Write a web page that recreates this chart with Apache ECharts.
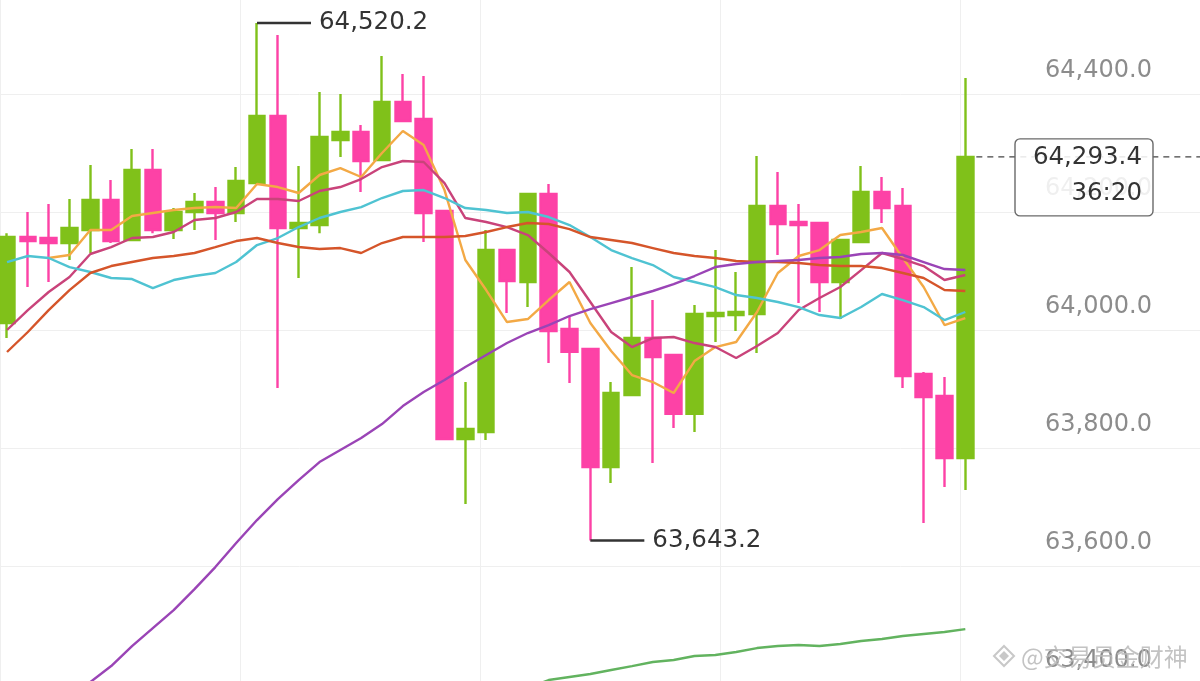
<!DOCTYPE html>
<html><head><meta charset="utf-8">
<script src="https://cdn.jsdelivr.net/npm/echarts@6/dist/echarts.min.js"></script>
<style>html,body{margin:0;padding:0;background:#fff;overflow:hidden}#c{width:1200px;height:681px}</style>
</head><body><div id="c"></div>
<script>
// ---- data ----
const opens  = [64011.8,64157.6,64155.9,64147.4,64169.4,64220.3,64152.5,64271.1,64169.4,64200.0,64216.9,64198.3,64249.1,64362.7,64172.8,64177.9,64322.0,64335.6,64288.1,64386.4,64357.6,64201.7,63815.2,63827.1,64135.5,64081.4,64230.5,64001.7,63967.7,63767.7,63889.8,63986.4,63957.6,63858.1,64023.7,64025.4,64027.1,64210.1,64183.1,64181.3,64081.4,64149.1,64233.9,64210.1,63925.4,63888.1,63783.0];
const closes = [64157.6,64150.8,64147.4,64172.8,64220.3,64150.8,64271.1,64169.4,64200.0,64216.9,64198.3,64252.5,64362.7,64172.8,64181.3,64327.1,64335.6,64286.4,64386.4,64354.2,64198.3,63815.2,63832.1,64135.5,64083.0,64230.5,63998.3,63962.9,63767.7,63893.2,63986.4,63954.2,63858.1,64027.1,64028.8,64030.5,64210.1,64179.6,64177.9,64081.4,64152.5,64233.9,64206.7,63922.0,63886.4,63783.0,64293.4];
const lows   = [63986.4,64072.8,64081.4,64118.6,64130.5,64147.4,64152.5,64164.1,64154.2,64169.4,64152.5,64183.1,64249.1,63901.6,64088.1,64164.1,64293.2,64233.9,64288.1,64354.2,64149.1,63815.2,63705.0,63813.5,64028.8,64038.9,63944.0,63910.1,63643.2,63740.6,63889.8,63774.5,63833.8,63827.1,63979.6,63998.3,63961.0,64127.1,64045.7,64030.5,64018.6,64149.1,64181.3,63901.6,63672.8,63733.9,63728.8];
const highs  = [64164.1,64200.0,64213.5,64222.0,64279.6,64254.2,64306.7,64306.7,64206.7,64232.2,64242.3,64276.2,64520.2,64500.0,64277.9,64403.4,64400.0,64347.4,64464.4,64433.9,64430.5,64201.7,63911.8,64169.4,64135.5,64230.5,64247.4,64022.0,63967.7,63911.8,64106.7,64050.8,63957.6,64042.3,64135.5,64098.3,64294.9,64267.8,64213.5,64181.3,64152.5,64277.9,64259.3,64240.6,63928.8,63920.3,64427.1];

const ma5   = [null,null,64122.0,64127.1,64169.4,64169.4,64193.2,64198.3,64203.4,64206.7,64208.4,64206.7,64247.4,64242.3,64232.2,64262.7,64274.5,64259.3,64300.0,64337.3,64313.5,64237.2,64118.6,64067.7,64013.5,64018.6,64050.8,64081.3,64011.8,63964.4,63923.7,63911.8,63893.2,63947.4,63971.1,63979.6,64030.5,64096.6,64125.4,64135.5,64161.0,64166.1,64172.8,64122.0,64072.8,64008.4,64020.3];
const ma10  = [64000.0,64033.8,64064.4,64089.8,64128.8,64140.6,64155.9,64157.6,64166.1,64186.4,64189.8,64200.0,64222.0,64222.0,64218.6,64235.6,64242.3,64255.9,64276.2,64286.4,64284.7,64249.1,64189.8,64183.0,64174.5,64161.0,64130.5,64098.3,64047.4,63996.6,63971.1,63986.4,63988.1,63977.9,63971.1,63952.5,63972.8,63994.9,64033.8,64054.2,64072.8,64101.6,64130.5,64120.3,64108.4,64084.7,64093.2];
const ma20  = [64115.2,64125.4,64122.0,64106.7,64098.3,64088.1,64086.4,64071.1,64084.7,64091.5,64096.6,64115.2,64144.0,64155.9,64174.5,64189.8,64200.0,64208.4,64223.7,64235.6,64237.2,64223.7,64206.7,64203.4,64198.3,64200.0,64191.5,64177.9,64157.6,64135.5,64122.0,64110.1,64089.8,64081.3,64072.8,64059.3,64054.2,64047.4,64038.9,64025.4,64020.3,64038.9,64061.0,64050.8,64038.9,64016.9,64030.5];
const ma30  = [63962.7,63996.6,64033.8,64067.7,64096.6,64108.4,64115.2,64122.0,64125.4,64130.5,64140.6,64150.8,64155.9,64147.4,64140.6,64137.2,64138.9,64130.5,64147.4,64157.6,64157.6,64157.6,64159.3,64166.1,64174.5,64181.3,64179.6,64171.1,64157.6,64152.5,64147.4,64138.9,64130.5,64125.4,64122.0,64116.9,64115.2,64115.2,64113.5,64110.1,64108.4,64108.4,64105.0,64096.6,64088.1,64067.7,64066.1];
const ma60  = [null,null,null,63374.5,63403.3,63430.4,63464.3,63494.8,63525.3,63560.9,63598.2,63638.9,63677.9,63713.5,63745.7,63776.2,63796.6,63816.9,63840.6,63871.1,63894.9,63915.2,63937.2,63957.6,63977.9,63994.9,64008.4,64023.7,64035.5,64045.7,64055.9,64066.1,64077.9,64091.5,64106.7,64111.8,64115.2,64116.9,64118.6,64122.0,64123.7,64128.8,64130.5,64127.1,64115.2,64103.3,64101.6];
const ma120 = [null,null,null,null,null,null,null,null,null,null,null,null,null,null,null,null,null,null,null,null,null,null,null,null,null,63393.1,63406.7,63411.8,63416.9,63423.7,63430.4,63437.2,63440.6,63447.4,63449.1,63454.2,63460.9,63464.3,63466.0,63464.3,63467.7,63472.8,63476.2,63481.3,63484.7,63488.1,63493.1];

const yTicks = {min: 63400, max: 64600, step: 200};
const countdown = '36:20';
const watermark = '@交易员金财神';
const emptySlots = 11;
const categories = opens.map((_, i) => String(i + 1)).concat(Array.from({length: emptySlots}, (_, i) => 'e' + (i + 1)));

// ---- styles ----
const GREEN = '#80c11a', PINK = '#fd42a6';
const NUMFONT = 'DejaVu Sans';
const fmt = v => Number(v).toLocaleString('en-US', {minimumFractionDigits: 1, maximumFractionDigits: 1});

let iMax = 0, iMin = 0;
highs.forEach((h, i) => { if (h > highs[iMax]) iMax = i; });
lows.forEach((l, i) => { if (l < lows[iMin]) iMin = i; });

const lineDefs = [
  ['MA5', ma5, '#f3a945'],
  ['MA10', ma10, '#c9437a'],
  ['MA20', ma20, '#4fc3d2'],
  ['MA30', ma30, '#d5552a'],
  ['MA60', ma60, '#9a44b6'],
  ['MA120', ma120, '#62b35f']
];

const chart = echarts.init(document.getElementById('c'), null, {renderer: 'canvas'});
const option = {
  animation: false,
  backgroundColor: '#ffffff',
  grid: [
    {left: -3.4, right: -4.9, top: -24, bottom: -3, outerBoundsMode: 'none', containLabel: false},
    {left: 0, right: 0, top: 0, bottom: 0, outerBoundsMode: 'none', containLabel: false}
  ],
  xAxis: [
    {type: 'category', gridIndex: 0, data: categories, boundaryGap: true,
     axisLine: {show: false}, axisTick: {show: false}, axisLabel: {show: false}, splitLine: {show: false}},
    {type: 'value', gridIndex: 1, min: 0, max: 5, interval: 1,
     axisLine: {show: false}, axisTick: {show: false}, axisLabel: {show: false},
     splitLine: {show: true, lineStyle: {color: '#efefef', width: 1}}}
  ],
  yAxis: [
    {type: 'value', gridIndex: 0, position: 'right', min: yTicks.min, max: yTicks.max, interval: yTicks.step,
     axisLine: {show: false}, axisTick: {show: false},
     splitLine: {show: true, lineStyle: {color: '#efefef', width: 1}},
     axisLabel: {inside: true, margin: 53, color: '#8c8c8c', fontSize: 24, fontFamily: NUMFONT,
                 formatter: fmt, verticalAlign: 'bottom', lineHeight: 46}},
    {type: 'value', gridIndex: 1, show: false, min: 0, max: 1}
  ],
  series: [
    {
      type: 'candlestick', xAxisIndex: 0, yAxisIndex: 0,
      data: opens.map((o, i) => [o, closes[i], lows[i], highs[i]]),
      barWidth: 16,
      itemStyle: {color: GREEN, color0: PINK, borderColor: GREEN, borderColor0: PINK, borderWidth: 2.4},
      markPoint: {
        symbol: 'rect', symbolSize: [54, 2.5], symbolOffset: [27, 0], silent: true,
        itemStyle: {color: '#333'},
        label: {show: true, position: 'right', distance: 8, color: '#333', fontSize: 24.5, fontFamily: NUMFONT,
                formatter: p => fmt(p.value)},
        data: [
          {coord: [categories[iMax], highs[iMax]], value: highs[iMax]},
          {coord: [categories[iMin], lows[iMin]], value: lows[iMin]}
        ]
      }
    }
  ].concat(lineDefs.map(([name, data, color]) => ({
    name, type: 'line', xAxisIndex: 0, yAxisIndex: 0, data,
    showSymbol: false, symbol: 'none', silent: true, z: 3,
    lineStyle: {width: 2.4, color}, itemStyle: {color}
  })))
};
chart.setOption(option);

// price line + box, positioned from data
const last = closes.length - 1;
const py = chart.convertToPixel({yAxisIndex: 0}, closes[last]);
const px = chart.convertToPixel({xAxisIndex: 0}, categories[last]);
chart.setOption({
  graphic: [
    {type: 'line', z: 50, shape: {x1: px + 11, y1: py, x2: 1200, y2: py},
     style: {stroke: '#444', lineWidth: 1.3, lineDash: [6, 5]}},
    {type: 'rect', z: 60, shape: {x: 1015, y: py - 18, width: 138, height: 77, r: 5},
     style: {fill: 'rgba(255,255,255,0.86)', stroke: '#6a6a6a', lineWidth: 1.4}},
    {type: 'text', z: 61, x: 1142, y: py + 1,
     style: {text: fmt(closes[last]), fill: '#333', fontSize: 24.5, fontFamily: NUMFONT, align: 'right', verticalAlign: 'middle'}},
    {type: 'text', z: 61, x: 1142, y: py + 37,
     style: {text: countdown, fill: '#333', fontSize: 24.5, fontFamily: NUMFONT, align: 'right', verticalAlign: 'middle'}},
    {type: 'polygon', z: 70, shape: {points: [[1004, 646], [1014, 656], [1004, 666], [994, 656]]},
     style: {fill: 'none', stroke: 'rgba(190,190,190,0.85)', lineWidth: 2}},
    {type: 'polygon', z: 70, shape: {points: [[1004, 651], [1009, 656], [1004, 661], [999, 656]]},
     style: {fill: 'rgba(190,190,190,0.85)'}},
    {type: 'text', z: 70, x: 1021, y: 657,
     style: {text: watermark, fill: 'rgba(185,185,185,0.85)', fontSize: 24, fontFamily: 'Noto Sans CJK SC', align: 'left', verticalAlign: 'middle'}}
  ]
});
</script></body></html>
